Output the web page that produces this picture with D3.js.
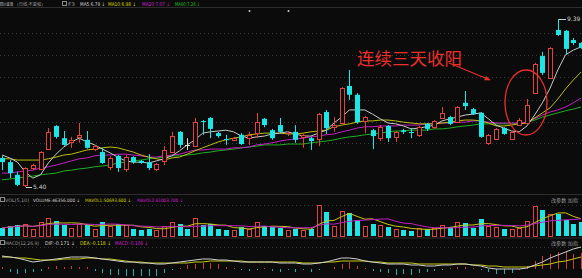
<!DOCTYPE html>
<html><head><meta charset="utf-8">
<script src="https://cdn.jsdelivr.net/npm/d3@7/dist/d3.min.js"></script>
<style>html,body{margin:0;padding:0;background:#0b0b0b;overflow:hidden}</style>
</head><body><svg id="c" width="582" height="278"></svg>
<script>
// ---- data ----
const opens=[6.09,5.99,5.69,5.44,5.85,5.83,6.30,6.85,6.56,6.47,6.59,6.52,6.30,6.23,5.88,6.14,5.83,6.11,6.02,5.99,5.83,6.02,6.23,6.71,6.40,6.37,6.97,7.04,6.68,6.54,6.52,6.64,6.56,6.68,7.02,6.75,6.87,6.66,6.71,6.59,6.56,6.54,7.18,6.82,6.92,7.80,7.59,6.97,6.75,6.56,6.85,6.59,6.75,6.71,6.64,6.90,6.82,7.04,7.06,6.94,7.40,7.25,7.16,6.45,6.54,6.80,6.54,6.87,6.92,7.63,8.51,7.99,9.13,9.11,8.89,8.82];
const highs=[6.14,6.04,5.76,5.87,5.95,6.25,6.80,6.87,6.73,6.59,6.92,6.73,6.40,6.33,6.13,6.16,6.16,6.13,6.04,6.18,5.97,6.37,6.71,6.73,6.56,7.04,6.99,7.06,6.71,6.64,6.59,6.68,6.71,7.16,7.04,6.78,7.04,6.73,6.87,6.66,6.59,7.16,7.23,7.06,7.77,8.18,7.63,7.09,6.78,6.87,6.87,6.73,6.78,6.80,6.85,6.92,6.99,7.30,7.09,7.32,7.68,7.28,7.18,6.66,6.80,6.82,6.73,7.04,7.49,8.35,8.61,8.72,9.39,9.13,8.94,8.84];
const lows=[5.80,5.61,5.42,5.40,5.80,5.80,6.28,6.55,6.38,6.33,6.45,6.31,6.25,5.95,5.80,5.76,5.76,5.95,5.95,5.80,5.78,5.92,6.21,6.33,6.28,6.35,6.64,6.56,6.57,6.40,6.49,6.40,6.40,6.56,6.82,6.52,6.68,6.61,6.45,6.33,6.28,6.37,6.66,6.71,6.90,7.47,6.90,6.68,6.30,6.49,6.47,6.47,6.66,6.56,6.59,6.73,6.78,7.02,6.87,6.92,7.23,7.11,6.57,6.40,6.52,6.64,6.52,6.85,6.90,7.61,8.06,7.97,8.99,8.54,8.77,8.68];
const closes=[5.99,5.73,5.45,5.85,5.92,6.23,6.71,6.59,6.40,6.52,6.64,6.33,6.37,5.97,6.09,5.85,6.11,5.99,5.97,5.85,5.95,6.28,6.61,6.40,6.40,6.94,6.96,6.78,6.61,6.52,6.56,6.42,6.64,6.94,6.87,6.56,6.71,6.68,6.52,6.64,6.49,7.13,6.80,6.87,7.75,7.59,6.94,7.06,6.61,6.82,6.56,6.71,6.71,6.70,6.82,6.78,6.97,7.16,6.90,7.30,7.32,7.13,6.59,6.64,6.78,6.66,6.71,6.99,7.35,8.32,8.11,8.70,9.01,8.68,8.82,8.70];
const ma5=[6.16,6.09,5.99,5.76,5.61,5.69,5.97,6.18,6.35,6.47,6.56,6.47,6.40,6.30,6.21,6.11,6.02,5.99,5.99,5.97,6.02,6.07,6.14,6.26,6.40,6.52,6.68,6.71,6.73,6.75,6.71,6.61,6.56,6.59,6.61,6.66,6.68,6.71,6.66,6.61,6.61,6.68,6.75,6.92,7.06,7.23,7.23,7.23,7.13,7.02,6.92,6.90,6.85,6.78,6.80,6.83,6.87,6.97,7.02,7.06,7.11,7.13,7.16,7.02,6.87,6.80,6.73,6.71,6.85,7.11,7.40,7.75,8.18,8.54,8.65,8.73];
const ma10=[6.07,6.07,6.04,6.04,6.04,6.04,6.07,6.11,6.16,6.18,6.23,6.28,6.30,6.33,6.35,6.33,6.28,6.23,6.16,6.11,6.07,6.04,6.09,6.11,6.18,6.26,6.33,6.40,6.47,6.52,6.56,6.59,6.64,6.66,6.68,6.68,6.68,6.66,6.66,6.68,6.71,6.73,6.75,6.83,6.87,6.90,6.94,6.97,6.97,6.99,6.99,6.97,6.94,6.92,6.90,6.90,6.90,6.92,6.94,6.97,6.99,6.99,6.97,6.92,6.85,6.85,6.87,6.90,6.92,7.04,7.16,7.28,7.49,7.73,7.94,8.13];
const ma20=[5.73,5.73,5.76,5.78,5.80,5.85,5.88,5.92,5.97,6.02,6.07,6.09,6.14,6.16,6.16,6.18,6.18,6.16,6.14,6.11,6.11,6.14,6.16,6.18,6.23,6.28,6.28,6.30,6.30,6.30,6.33,6.33,6.35,6.40,6.42,6.45,6.49,6.52,6.54,6.56,6.59,6.61,6.64,6.66,6.71,6.75,6.80,6.83,6.83,6.85,6.85,6.85,6.87,6.87,6.87,6.90,6.90,6.92,6.92,6.94,6.94,6.97,6.97,6.94,6.92,6.92,6.92,6.92,6.94,7.02,7.11,7.18,7.23,7.30,7.40,7.51];
const ma60=[5.57,5.59,5.61,5.64,5.66,5.69,5.71,5.73,5.78,5.80,5.83,5.85,5.88,5.90,5.92,5.97,5.99,6.02,6.04,6.07,6.09,6.11,6.14,6.14,6.16,6.18,6.21,6.23,6.26,6.28,6.30,6.33,6.35,6.37,6.40,6.40,6.40,6.42,6.42,6.42,6.45,6.47,6.49,6.52,6.56,6.59,6.61,6.64,6.66,6.68,6.71,6.73,6.73,6.75,6.75,6.75,6.78,6.78,6.80,6.83,6.85,6.87,6.90,6.90,6.90,6.90,6.90,6.92,6.94,6.99,7.06,7.11,7.16,7.21,7.25,7.30];
const volumes=[51600,64500,71000,77400,45200,90300,116100,96800,71000,51600,77400,71000,45200,90300,64500,77400,71000,45200,38700,45200,38700,64500,90300,77400,45200,116100,71000,77400,45200,38700,38700,58000,45200,90300,64500,58000,51600,38700,45200,38700,45200,200000,154800,64500,161300,148400,103200,64500,77400,71000,58000,45200,38700,32300,51600,45200,51600,71000,58000,90300,83900,51600,109700,64500,58000,45200,45200,51600,96800,193500,167700,141900,141900,103200,77400,90300];
const dif=[0.13,0.12,0.11,0.09,0.07,0.08,0.09,0.10,0.11,0.12,0.12,0.12,0.11,0.10,0.09,0.08,0.07,0.07,0.06,0.06,0.05,0.05,0.06,0.07,0.08,0.09,0.10,0.10,0.09,0.09,0.08,0.07,0.07,0.07,0.07,0.07,0.06,0.06,0.06,0.05,0.05,0.06,0.07,0.09,0.11,0.11,0.10,0.08,0.07,0.06,0.05,0.05,0.05,0.04,0.04,0.03,0.03,0.04,0.04,0.05,0.05,0.04,0.03,0.01,0.00,0.00,0.00,0.00,0.01,0.04,0.07,0.11,0.14,0.17,0.20,0.22];
const dea=[0.12,0.12,0.11,0.11,0.10,0.09,0.09,0.09,0.10,0.10,0.10,0.11,0.11,0.10,0.10,0.09,0.08,0.07,0.07,0.06,0.06,0.06,0.06,0.06,0.06,0.07,0.07,0.08,0.08,0.08,0.08,0.08,0.07,0.07,0.07,0.07,0.07,0.07,0.07,0.06,0.06,0.06,0.07,0.07,0.08,0.08,0.08,0.08,0.07,0.07,0.06,0.06,0.06,0.06,0.05,0.05,0.05,0.05,0.05,0.05,0.05,0.04,0.04,0.03,0.03,0.02,0.02,0.02,0.02,0.03,0.04,0.05,0.07,0.08,0.10,0.12];
const macdHist=[0.02,-0.03,-0.05,-0.04,-0.03,-0.02,0.02,0.03,0.02,0.03,0.02,0.02,-0.02,-0.04,-0.06,-0.06,-0.07,-0.07,-0.07,-0.07,-0.07,-0.04,-0.01,0.01,0.04,0.05,0.06,0.06,0.05,0.02,0.01,-0.01,-0.02,-0.01,0.01,-0.02,-0.03,-0.01,-0.03,-0.01,-0.03,-0.01,0.00,0.02,0.05,0.07,0.03,0.01,-0.02,-0.03,-0.04,-0.06,-0.05,-0.06,-0.04,-0.03,-0.02,-0.01,0.01,0.02,0.02,0.01,-0.01,-0.03,-0.05,-0.05,-0.04,-0.01,0.03,0.08,0.13,0.15,0.17,0.18,0.15,0.16];
const gridPrices=[9.06,8.54,8.01,7.47,6.95,6.45];
const infoMarks=[32,37];
const stockName="四川金顶", period="(日线,不复权)";
const maLabels=[["MA5:6.79 ↓","#d2d2d2"],["MA10:6.98 ↓","#d6d600"],["MA20:7.07 ↓","#d020d0"],["MA60:7.26 ↓","#22c022"]];
const volLabels=[["VOLUME:46356.000 ↓","#d2d2d2"],["MAVOL1:50693.600 ↓","#d6d600"],["MAVOL2:61003.700 ↓","#d020d0"]];
const macdLabels=[["DIF:-0.171 ↓","#d2d2d2"],["DEA:-0.118 ↓","#d6d600"],["MACD:-0.106 ↓","#d020d0"]];
const note="连续三天收阳";

// ---- drawing ----
const n=closes.length;
const UP="#e0443e", DN="#1ee6e6", BG="#0b0b0b";
const svg=d3.select("#c");
svg.append("rect").attr("width",582).attr("height",278).attr("fill",BG);
const x=d3.scaleLinear().domain([0,n-1]).range([2,581]);
const y=d3.scaleLinear().domain([5.40,9.39]).range([187,19]);
const yv=d3.scaleLinear().domain([0,200000]).range([236,205]);
const ym=d3.scaleLinear().domain([-0.1,0.3]).range([279,239]);
const cx=i=>Math.round(x(i));
const FONT="'DejaVu Sans','Noto Sans CJK SC',sans-serif";

// separators
[7,194,237.5].forEach(yy=>svg.append("line").attr("x1",0).attr("x2",582).attr("y1",yy+0.5).attr("y2",yy+0.5).attr("stroke","#2e2e2e"));
// grids
svg.selectAll(".g").data(gridPrices).join("line")
 .attr("x1",0).attr("x2",582).attr("y1",d=>Math.round(y(d))+0.5).attr("y2",d=>Math.round(y(d))+0.5)
 .attr("stroke","#3a3a3a").attr("stroke-dasharray","1,3");
[205,247].forEach(yy=>svg.append("line").attr("x1",0).attr("x2",582).attr("y1",yy+0.5).attr("y2",yy+0.5).attr("stroke","#3a3a3a").attr("stroke-dasharray","1,3"));

// MA lines
const lineP=arr=>d3.line().x((d,i)=>x(i)).y(d=>y(d))(arr);
[[ma60,"#1fae1f"],[ma20,"#c21fc2"],[ma10,"#bcbc10"],[ma5,"#c8c8c8"]].forEach(([a,c])=>
  svg.append("path").attr("d",lineP(a)).attr("fill","none").attr("stroke",c).attr("stroke-width",1));

// candles
const colorOf=i=>closes[i]>opens[i]?UP:(closes[i]<opens[i]?DN:"#dddddd");
const cg=svg.append("g");
d3.range(n).forEach(i=>{
  const c=colorOf(i), X=cx(i);
  cg.append("line").attr("x1",X+0.5).attr("x2",X+0.5).attr("y1",y(highs[i])).attr("y2",y(lows[i])).attr("stroke",c);
  const t=y(Math.max(opens[i],closes[i])), b=y(Math.min(opens[i],closes[i]));
  if(b-t<1.2){
    cg.append("line").attr("x1",X-2).attr("x2",X+3).attr("y1",Math.round(t)+0.5).attr("y2",Math.round(t)+0.5).attr("stroke",c);
  } else if(closes[i]>opens[i]){
    cg.append("rect").attr("x",X-1.5).attr("y",Math.round(t)+0.5).attr("width",4).attr("height",Math.round(b)-Math.round(t)).attr("fill",BG).attr("stroke",c);
  } else {
    cg.append("rect").attr("x",X-2).attr("y",t).attr("width",5).attr("height",b-t).attr("fill",c);
  }
});

// high/low markers
const iH=d3.maxIndex(highs), iL=d3.minIndex(lows);
svg.append("line").attr("x1",cx(iH)+1).attr("x2",cx(iH)+8).attr("y1",Math.round(y(highs[iH]))+0.5).attr("y2",Math.round(y(highs[iH]))+0.5).attr("stroke","#cfcfcf");
svg.append("text").attr("x",cx(iH)+9).attr("y",y(highs[iH])+2).text(highs[iH].toFixed(2)).attr("fill","#cfcfcf").attr("font-size",6).attr("font-family",FONT);
svg.append("line").attr("x1",cx(iL)+1).attr("x2",cx(iL)+7).attr("y1",Math.round(y(lows[iL]))+0.5).attr("y2",Math.round(y(lows[iL]))+0.5).attr("stroke","#cfcfcf");
svg.append("text").attr("x",cx(iL)+8).attr("y",y(lows[iL])+2).text(lows[iL].toFixed(2)).attr("fill","#cfcfcf").attr("font-size",6).attr("font-family",FONT);

// info marks
svg.selectAll(".im").data(infoMarks).join("circle").attr("cx",d=>cx(d)+0.5).attr("cy",11).attr("r",1).attr("fill","#cccccc");

// volume
const vg=svg.append("g");
d3.range(n).forEach(i=>{
  const c=colorOf(i), X=cx(i), t=yv(volumes[i]);
  if(c===UP){
    vg.append("rect").attr("x",X-1.5).attr("y",Math.round(t)+0.5).attr("width",4).attr("height",236-Math.round(t)).attr("fill",BG).attr("stroke",c);
  } else {
    vg.append("rect").attr("x",X-2).attr("y",t).attr("width",5).attr("height",236-t).attr("fill",DN);
  }
});
const mav=k=>volumes.map((v,i)=>d3.mean(volumes.slice(Math.max(0,i-k+1),i+1)));
[[mav(5),"#c8c810"],[mav(10),"#c21fc2"]].forEach(([a,c])=>
  svg.append("path").attr("d",d3.line().x((d,i)=>x(i)).y(d=>yv(d))(a)).attr("fill","none").attr("stroke",c));

// MACD
const mg=svg.append("g");
d3.range(n).forEach(i=>{
  mg.append("line").attr("x1",cx(i)+0.5).attr("x2",cx(i)+0.5).attr("y1",ym(0)).attr("y2",ym(macdHist[i]))
    .attr("stroke",macdHist[i]>=0?"#c83c3c":"#1fb0b0");
});
[[dea,"#c8c810"],[dif,"#d0d0d0"]].forEach(([a,c])=>
  svg.append("path").attr("d",d3.line().x((d,i)=>x(i)).y(d=>ym(d))(a)).attr("fill","none").attr("stroke",c));

// headers
function txt(s,xx,yy,c,len,size){const t=svg.append("text").attr("x",xx).attr("y",yy).text(s).attr("fill",c).attr("font-size",size||5).attr("font-family",FONT);
  if(len) t.attr("textLength",len).attr("lengthAdjust","spacingAndGlyphs"); return t;}
function box(xx,yy){svg.append("rect").attr("x",xx+0.5).attr("y",yy+0.5).attr("width",4).attr("height",4).attr("fill","none").attr("stroke","#8a8a8a");}
function row(labels,xs,ws,yy,size){labels.forEach(([s,c],k)=>txt(s,xs[k],yy,c,ws[k],size));}
txt(stockName,0,5.5,"#d8d8d8",13,4);
txt(period,17,5.5,"#9a9a9a",26,4);
box(62,1); txt("F3",68,5.5,"#9a9a9a",7);
row(maLabels,[80,108,142,175],[25,28,28,25],5.5,5);

box(0,197); txt("VOL(5,10)",5,201.5,"#9a9a9a",24,4.8);
row(volLabels,[33,85,137],[47,46,46],201.5,4.6);
txt("改参数 加指",551,201.5,"#9a9a9a",27,4.5);

box(0,240); txt("MACD(12,26,9)",5,244.5,"#9a9a9a",34,4.8);
row(macdLabels,[45,80,115],[30,31,33],244.5,5);
txt("改参数 加指",551,244.5,"#9a9a9a",27,4.5);

// annotation
svg.append("text").attr("x",357).attr("y",64.5).text(note).attr("fill","#e8302a").attr("font-size",17.5)
  .attr("font-family","'Noto Sans CJK SC',sans-serif").attr("textLength",105).attr("lengthAdjust","spacingAndGlyphs");
svg.append("defs").append("marker").attr("id","ah").attr("viewBox","0 0 10 10").attr("refX",9).attr("refY",5)
  .attr("markerWidth",5).attr("markerHeight",5).attr("orient","auto")
  .append("path").attr("d","M0,1L10,5L0,9z").attr("fill","#e8302a");
svg.append("line").attr("x1",449).attr("y1",63).attr("x2",490).attr("y2",80).attr("stroke","#e8302a").attr("stroke-width",1.2).attr("marker-end","url(#ah)");
svg.append("ellipse").attr("cx",526).attr("cy",102.5).attr("rx",21).attr("ry",32.5).attr("fill","none").attr("stroke","#e8302a").attr("stroke-width",1.3);
</script></body></html>
